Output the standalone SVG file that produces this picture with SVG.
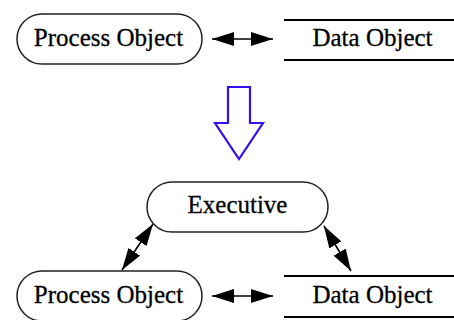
<svg xmlns="http://www.w3.org/2000/svg" width="454" height="320" viewBox="0 0 454 320">
<style>
.pill{fill:#fff;stroke:#222;stroke-width:1.5}
.store{stroke:#000;stroke-width:2.2}
.lbl{font-family:"Liberation Serif","Times New Roman",serif;font-size:25px;fill:#000;stroke:#000;stroke-width:0.3;text-anchor:middle}
.conn{stroke:#000;stroke-width:1.6;fill:none;marker-start:url(#ah);marker-end:url(#ah)}
</style>
<defs>
<marker id="ah" viewBox="0 0 22 14" refX="22" refY="7" markerWidth="22" markerHeight="14" markerUnits="userSpaceOnUse" orient="auto-start-reverse">
<path d="M0,0 L22,7 L0,14 z" fill="#000"/>
</marker>
</defs>
<rect width="454" height="320" fill="#fff"/>
<g id="process-top">
<rect class="pill" x="17" y="14" width="185" height="50" rx="25"/>
<text class="lbl" x="108.5" y="45.5">Process Object</text>
</g>
<g id="data-top">
<line class="store" x1="284" y1="20" x2="454" y2="20"/>
<line class="store" x1="284" y1="60" x2="454" y2="60"/>
<text class="lbl" x="372.5" y="45.5">Data Object</text>
</g>
<g id="transform-arrow">
<polygon points="228,87 250,87 250,123 263,123 239,159 215,123 228,123" fill="#fff" stroke="#3311ee" stroke-width="2.2" stroke-linejoin="miter"/>
</g>
<g id="executive">
<rect class="pill" x="147" y="182" width="181" height="50" rx="25"/>
<text class="lbl" x="237.5" y="213">Executive</text>
</g>
<g id="process-bottom">
<rect class="pill" x="17" y="271" width="185" height="50" rx="25"/>
<text class="lbl" x="108.5" y="302.5">Process Object</text>
</g>
<g id="data-bottom">
<line class="store" x1="284" y1="276" x2="454" y2="276"/>
<line class="store" x1="284" y1="317" x2="454" y2="317"/>
<text class="lbl" x="372.5" y="302.5">Data Object</text>
</g>
<g id="connectors">
<line class="conn" x1="212" y1="39" x2="273" y2="39"/>
<line class="conn" x1="212" y1="296" x2="273" y2="296"/>
<line class="conn" x1="153" y1="224" x2="122" y2="270"/>
<line class="conn" x1="324" y1="226" x2="351" y2="271"/>
</g>
</svg>
